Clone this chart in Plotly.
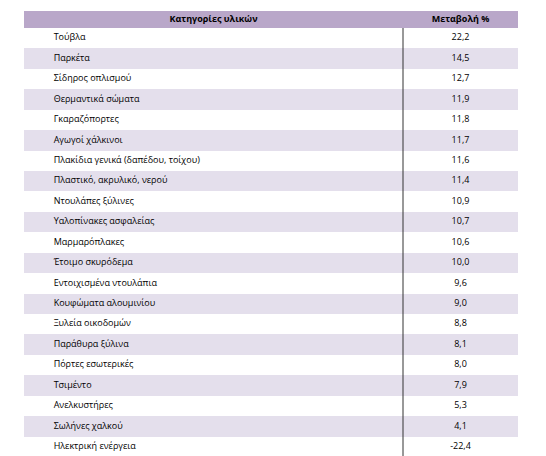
import plotly.graph_objects as go

categories = ["Τούβλα", "Παρκέτα", "Σίδηρος οπλισμού", "Θερμαντικά σώματα", "Γκαραζόπορτες",
              "Αγωγοί χάλκινοι", "Πλακίδια γενικά (δαπέδου, τοίχου)", "Πλαστικό, ακρυλικό, νερού",
              "Ντουλάπες ξύλινες", "Υαλοπίνακες ασφαλείας", "Μαρμαρόπλακες", "Έτοιμο σκυρόδεμα",
              "Εντοιχισμένα ντουλάπια", "Κουφώματα αλουμινίου", "Ξυλεία οικοδομών", "Παράθυρα ξύλινα",
              "Πόρτες εσωτερικές", "Τσιμέντο", "Ανελκυστήρες", "Σωλήνες χαλκού", "Ηλεκτρική ενέργεια"]
changes = [22.2, 14.5, 12.7, 11.9, 11.8, 11.7, 11.6, 11.4, 10.9, 10.7, 10.6, 10.0,
           9.6, 9.0, 8.8, 8.1, 8.0, 7.9, 5.3, 4.1, -22.4]
headers = ["<b>Κατηγορίες υλικών</b>", "<b>Μεταβολή %</b>"]

W, H = 546, 456
x0, x1, xd = 16, 510, 395
ytop, yhead, ybot = 3, 20, 449
n = len(categories)
rh = (ybot - yhead) / n
fills = ["white" if i % 2 == 0 else "#e4dfec" for i in range(n)]
vals = [("%.1f" % v).replace(".", ",") for v in changes]
centers = [yhead + rh * (i + 0.5) for i in range(n)]
hc = (ytop + yhead) / 2
xs = (xd - x0) / (x1 - x0)
font = dict(family="Open Sans", size=9, color="black")

fig = go.Figure()
fig.add_trace(go.Bar(orientation="h", y=[hc] + centers, x=[1] * (n + 1), base=0,
                     width=[yhead - ytop] + [rh] * n,
                     marker=dict(color=["#b9a7c9"] + fills, line=dict(width=0)),
                     hoverinfo="skip"))
fig.add_trace(go.Scatter(x=[0.06] * n, y=centers, text=categories, mode="text",
                         textposition="middle right", textfont=font, hoverinfo="skip"))
fig.add_trace(go.Scatter(x=[(xs + 1) / 2] * n, y=centers, text=vals, mode="text",
                         textposition="middle center", textfont=font, hoverinfo="skip"))
fig.add_trace(go.Scatter(x=[xs / 2, (xs + 1) / 2], y=[hc, hc], text=headers, mode="text",
                         textposition="middle center", textfont=font, hoverinfo="skip"))
fig.add_shape(type="line", x0=xs, x1=xs, y0=yhead, y1=ybot, line=dict(color="#333", width=1))
fig.add_shape(type="line", x0=0, x1=1, y0=ybot, y1=ybot, line=dict(color="#333", width=1))
fig.update_layout(width=W, height=H, margin=dict(l=0, r=0, t=0, b=0), showlegend=False,
                  paper_bgcolor="white", plot_bgcolor="white", bargap=0,
                  xaxis=dict(domain=[x0 / W, x1 / W], range=[0, 1], visible=False, fixedrange=True),
                  yaxis=dict(domain=[0, 1], range=[H, 0], visible=False, fixedrange=True))
fig.write_html("out.html")
